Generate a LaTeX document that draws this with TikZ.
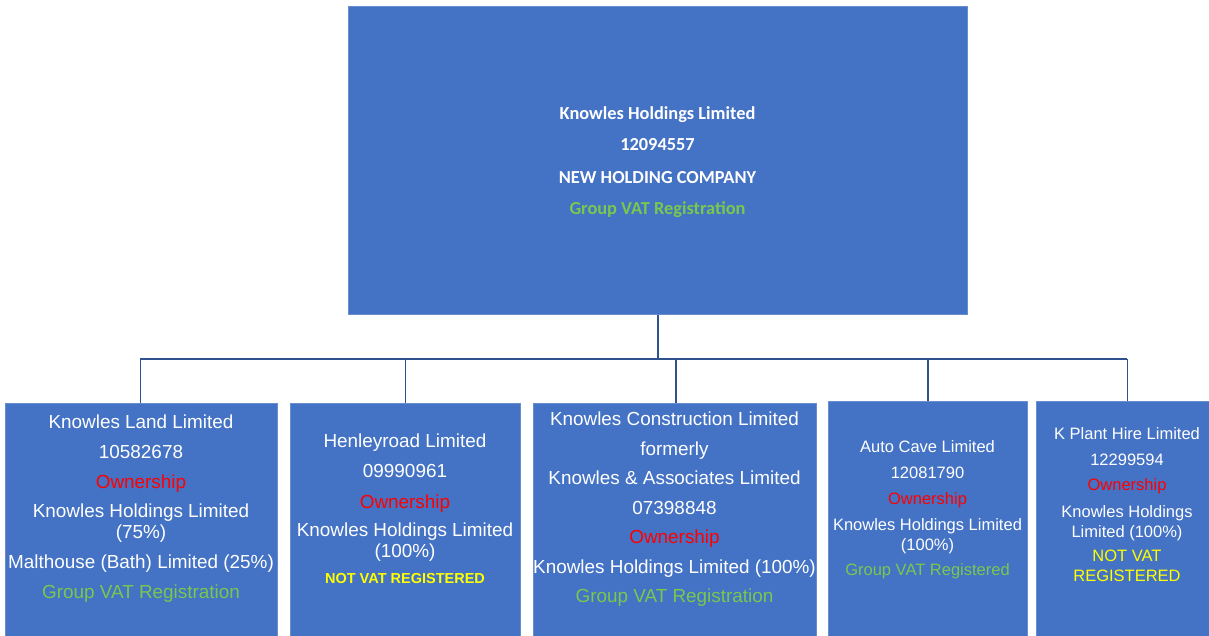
\documentclass[tikz,border=0pt]{standalone}
\usepackage{fontspec}
\newfontfamily\arialf{Liberation Sans}
\newfontfamily\calibf{Carlito}
\definecolor{boxblue}{HTML}{4472C4}
\definecolor{connblue}{HTML}{2F528F}
\definecolor{vatgreen}{HTML}{7AC74F}
\definecolor{ownred}{HTML}{FF0000}
\definecolor{notyellow}{HTML}{FFFF00}
\tikzset{
  box/.style={fill=boxblue, draw=boxblue!80!white, line width=0.8pt, inner sep=0pt, anchor=north west},
  conn/.style={draw=connblue, line width=1.5pt},
  ln/.style={anchor=base, inner sep=0pt, text=white, font=\arialf\fontsize{18.9}{20}\selectfont},
  lns/.style={anchor=base, inner sep=0pt, text=white, font=\arialf\fontsize{16.5}{18}\selectfont},
  lnt/.style={anchor=base, inner sep=0pt, text=white, font=\calibf\bfseries\fontsize{18.35}{21}\selectfont},
  red/.style={text=ownred},
  grn/.style={text=vatgreen},
  yel/.style={text=notyellow},
}
\begin{document}
\begin{tikzpicture}[x=1pt,y=-1pt]
\useasboundingbox (0,0) rectangle (1209,635);
\begin{scope}
\clip (0,0) rectangle (1209,635);
% boxes
\node[box, minimum width=619pt, minimum height=308pt] (top) at (348,6) {};
\node[box, minimum width=272pt, minimum height=240pt] (c1) at (5,403) {};
\node[box, minimum width=230pt, minimum height=240pt] (c2) at (290,403) {};
\node[box, minimum width=283pt, minimum height=240pt] (c3) at (533,403) {};
\node[box, minimum width=199pt, minimum height=240pt] (c4) at (828,401) {};
\node[box, minimum width=182pt, minimum height=240pt] (c5) at (1036,401) {};
% connectors
\coordinate (busL) at (140,359);
\coordinate (busR) at (1127,359);
\draw[conn] (busL) -- (busR);
\draw[conn] (top.south) -- (top.south |- busL);
\draw[conn] (c1.north) ++(-1,0) coordinate (d1) -- (d1 |- busL);
\draw[conn] (c2.north) -- (c2.north |- busL);
\draw[conn] (c3.north) ++(1,0) coordinate (d3) -- (d3 |- busL);
\draw[conn] (c4.north) -- (c4.north |- busL);
\draw[conn] (c5.north) -- (c5.north |- busL);
% top text
\node[lnt] (t1) at (657.5,119.1) {Knowles Holdings Limited};
\node[lnt] (t2) at (657.5,150.1) {12094557};
\node[lnt] (t3) at (657.5,183.1) {NEW HOLDING COMPANY};
\node[lnt, grn] (t4) at (657.5,214.1) {Group VAT Registration};
% box 1
\node[ln] (a1) at (141,428.8) {Knowles Land Limited};
\node[ln] (a2) at (141,458.8) {10582678};
\node[ln, red] (a3) at (141,488.8) {Ownership};
\node[ln] (a4) at (141,517.8) {Knowles Holdings Limited};
\node[ln] (a5) at (141,538.8) {(75\%)};
\node[ln] (a6) at (141,568.8) {Malthouse (Bath) Limited (25\%)};
\node[ln, grn] (a7) at (141,598.8) {Group VAT Registration};
% box 2
\node[ln] (b1) at (405,447.8) {Henleyroad Limited};
\node[ln] (b2) at (405,477.8) {09990961};
\node[ln, red] (b3) at (405,508.8) {Ownership};
\node[ln] (b4) at (405,536.8) {Knowles Holdings Limited};
\node[ln] (b5) at (405,557.8) {(100\%)};
\node[anchor=base, inner sep=0pt, text=notyellow, font=\arialf\bfseries\fontsize{14.5}{16}\selectfont] (b6) at (405,583.2) {NOT VAT REGISTERED};
% box 3
\node[ln] (e1) at (674.5,425.8) {Knowles Construction Limited};
\node[ln] (e2) at (674.5,455.8) {formerly};
\node[ln] (e3) at (674.5,484.8) {Knowles \& Associates Limited};
\node[ln] (e4) at (674.5,514.8) {07398848};
\node[ln, red] (e5) at (674.5,543.8) {Ownership};
\node[ln] (e6) at (674.5,573.8) {Knowles Holdings Limited (100\%)};
\node[ln, grn] (e7) at (674.5,602.8) {Group VAT Registration};
% box 4
\node[lns] (f1) at (927.5,452.9) {Auto Cave Limited};
\node[lns] (f2) at (927.5,478.9) {12081790};
\node[lns, red] (f3) at (927.5,504.9) {Ownership};
\node[lns] (f4) at (927.5,530.9) {Knowles Holdings Limited};
\node[lns] (f5) at (927.5,550.9) {(100\%)};
\node[lns, grn] (f6) at (927.5,575.9) {Group VAT Registered};
% box 5
\node[lns] (g1) at (1127,439.9) {K Plant Hire Limited};
\node[lns] (g2) at (1127,465.9) {12299594};
\node[lns, red] (g3) at (1127,490.9) {Ownership};
\node[lns] (g4) at (1127,517.9) {Knowles Holdings};
\node[lns] (g5) at (1127,537.9) {Limited (100\%)};
\node[lns, yel] (g6) at (1127,561.9) {NOT VAT};
\node[lns, yel] (g7) at (1127,581.9) {REGISTERED};
\end{scope}
\end{tikzpicture}
\end{document}
